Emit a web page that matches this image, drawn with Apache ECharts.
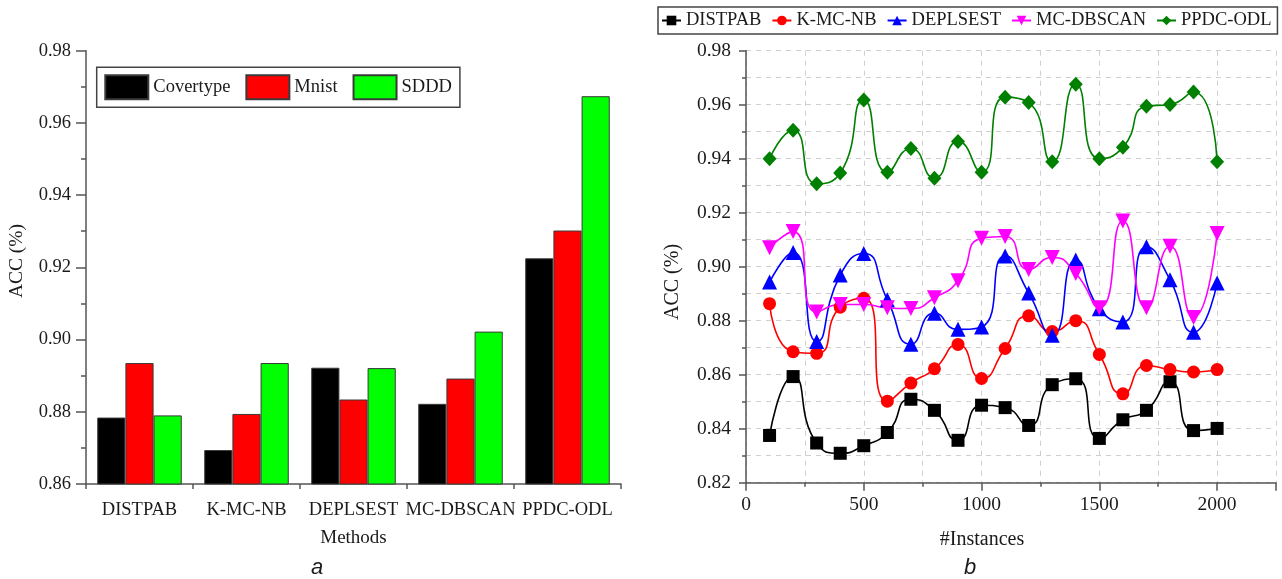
<!DOCTYPE html>
<html>
<head>
<meta charset="utf-8">
<script src="https://cdn.jsdelivr.net/npm/echarts@6/dist/echarts.min.js"></script>
<style>html,body{margin:0;padding:0;background:#fff}#c{width:1282px;height:579px}</style>
</head>
<body>
<div id="c"></div>
<script>
// ---- Panel a: bar chart ----
const methods = ['DISTPAB', 'K-MC-NB', 'DEPLSEST', 'MC-DBSCAN', 'PPDC-ODL'];
const covertype = [0.8784, 0.8694, 0.8922, 0.8822, 0.9225];
const mnist     = [0.8935, 0.8794, 0.8834, 0.8892, 0.9302];
const sddd      = [0.8790, 0.8935, 0.8921, 0.9022, 0.9674];

// ---- Panel b: line chart ----
const instances = [100,200,300,400,500,600,700,800,900,1000,1100,1200,1300,1400,1500,1600,1700,1800,1900,2000];
const distpab  = [0.8375,0.8593,0.8347,0.8309,0.8337,0.8386,0.8509,0.8468,0.8357,0.8487,0.8478,0.8412,0.8563,0.8585,0.8364,0.8433,0.8468,0.8574,0.8393,0.8401];
const kmcnb    = [0.8863,0.8685,0.8679,0.8850,0.8883,0.8502,0.8569,0.8622,0.8712,0.8586,0.8697,0.8818,0.8760,0.8800,0.8675,0.8529,0.8634,0.8619,0.8610,0.8619];
const deplsest = [0.8943,0.9053,0.8723,0.8969,0.9049,0.8878,0.8713,0.8828,0.8768,0.8777,0.9040,0.8903,0.8746,0.9025,0.8844,0.8795,0.9074,0.8952,0.8757,0.8940];
const mcdbscan = [0.9070,0.9130,0.8832,0.8860,0.8860,0.8848,0.8845,0.8885,0.8948,0.9105,0.9112,0.8990,0.9034,0.8975,0.8848,0.9169,0.8848,0.9076,0.8812,0.9123];
const ppdcodl  = [0.9400,0.9505,0.9307,0.9347,0.9617,0.9350,0.9438,0.9328,0.9464,0.9350,0.9628,0.9608,0.9389,0.9676,0.9400,0.9442,0.9594,0.9601,0.9647,0.9389];

const yTicksA = {min: 0.86, max: 0.98, interval: 0.02};
const yTicksB = {min: 0.82, max: 0.98, interval: 0.02};
const xTicksB = {min: 0, max: 2250, interval: 250};

const SERIF = 'Liberation Serif, Times New Roman, serif';
const AXC = '#555';
const TXT = '#1a1a1a';

function pairs(vals){ return instances.map((x,i)=>[x, vals[i]]); }

const chart = echarts.init(document.getElementById('c'), null, {renderer:'canvas'});

const barBorder = {borderColor:'#3a3a3a', borderWidth:1};
const lineDefs = [
  {name:'DISTPAB', data:distpab, color:'#000000', symbol:'rect', size:13, rot:0},
  {name:'K-MC-NB', data:kmcnb, color:'#ff0000', symbol:'circle', size:13, rot:0},
  {name:'DEPLSEST', data:deplsest, color:'#0000ff', symbol:'triangle', size:15, rot:0},
  {name:'MC-DBSCAN', data:mcdbscan, color:'#ff00ff', symbol:'triangle', size:15, rot:180},
  {name:'PPDC-ODL', data:ppdcodl, color:'#008000', symbol:'diamond', size:[14,15], rot:0}
];

const option = {
  animation:false,
  backgroundColor:'#fff',
  textStyle:{fontFamily:SERIF, color:TXT},
  grid:[
    {left:86, top:50.7, width:535, height:433.3},
    {left:746, top:50.7, width:530, height:432}
  ],
  legend:[
    {
      data:['Covertype','Mnist','SDDD'],
      left:96.7, top:67.3, orient:'horizontal',
      itemWidth:43, itemHeight:24, itemGap:15,
      padding:[7,8,7,7.6],
      borderColor:'#444', borderWidth:1.5,
      textStyle:{fontFamily:SERIF, fontSize:18.5, color:TXT},
      icon:'rect'
    },
    {
      data:['DISTPAB','K-MC-NB','DEPLSEST','MC-DBSCAN','PPDC-ODL'],
      left:658, top:7, width:800, orient:'horizontal',
      itemWidth:19, itemHeight:12, itemGap:10,
      padding:[4,6,4,3],
      borderColor:'#444', borderWidth:1.5,
      textStyle:{fontFamily:SERIF, fontSize:18.5, color:TXT}
    }
  ],
  xAxis:[
    {
      gridIndex:0, type:'category', data:methods, boundaryGap:true,
      axisLine:{lineStyle:{color:AXC, width:1.5}},
      axisTick:{alignWithLabel:true, length:9, lineStyle:{color:AXC, width:1.5}},
      axisLabel:{fontFamily:SERIF, fontSize:18.5, color:TXT, margin:17, interval:0},
      splitLine:{show:false}
    },
    {
      gridIndex:0, type:'category', data:methods, boundaryGap:true, position:'bottom',
      axisLine:{show:false},
      axisTick:{show:true, interval:0, length:5, lineStyle:{color:AXC, width:1.5}},
      axisLabel:{show:false}, splitLine:{show:false}
    },
    {
      gridIndex:1, type:'value', min:xTicksB.min, max:xTicksB.max, interval:xTicksB.interval,
      axisLine:{lineStyle:{color:AXC, width:1.5}},
      axisTick:{length:4, lineStyle:{color:AXC, width:1.5}},
      axisLabel:{fontFamily:SERIF, fontSize:19.5, color:TXT, margin:12,
        formatter:function(v){ return (v % 500 === 0 && v <= 2000) ? String(v) : ''; }},
      splitLine:{show:true, lineStyle:{color:'#cfcfcf', type:[5,5], width:1}}
    },
    {
      gridIndex:1, type:'value', min:xTicksB.min, max:xTicksB.max, interval:500, position:'bottom',
      axisLine:{show:false},
      axisTick:{length:8, lineStyle:{color:AXC, width:1.5}},
      axisLabel:{show:false}, splitLine:{show:false}
    }
  ],
  yAxis:[
    {
      gridIndex:0, type:'value', min:yTicksA.min, max:yTicksA.max, interval:yTicksA.interval,
      axisLine:{show:true, lineStyle:{color:AXC, width:1.5}},
      axisTick:{show:true, length:10, lineStyle:{color:AXC, width:1.5}},
      minorTick:{show:true, splitNumber:2, length:5, lineStyle:{color:AXC, width:1.5}},
      axisLabel:{fontFamily:SERIF, fontSize:18.5, color:TXT, margin:15, formatter:v=>v.toFixed(2)},
      splitLine:{show:false}
    },
    {
      gridIndex:1, type:'value', min:yTicksB.min, max:yTicksB.max, interval:yTicksB.interval,
      axisLine:{show:true, lineStyle:{color:AXC, width:1.5}},
      axisTick:{show:true, length:7, lineStyle:{color:AXC, width:1.5}},
      minorTick:{show:true, splitNumber:2, length:4, lineStyle:{color:AXC, width:1.5}},
      axisLabel:{fontFamily:SERIF, fontSize:19.5, color:TXT, margin:15, formatter:v=>v.toFixed(2)},
      splitLine:{show:true, lineStyle:{color:'#cfcfcf', type:[5,5], width:1}},
      minorSplitLine:{show:true, lineStyle:{color:'#cfcfcf', type:[5,5], width:1}}
    }
  ],
  series:[
    {name:'Covertype', type:'bar', xAxisIndex:0, yAxisIndex:0, data:covertype, barGap:'0%', barCategoryGap:'21%',
      itemStyle:Object.assign({color:'#000000'}, barBorder)},
    {name:'Mnist', type:'bar', xAxisIndex:0, yAxisIndex:0, data:mnist, barGap:'0%', barCategoryGap:'21%',
      itemStyle:Object.assign({color:'#ff0000'}, barBorder)},
    {name:'SDDD', type:'bar', xAxisIndex:0, yAxisIndex:0, data:sddd, barGap:'0%', barCategoryGap:'21%',
      itemStyle:Object.assign({color:'#00ff00'}, barBorder)}
  ].concat(lineDefs.map(d=>({
    name:d.name, type:'line', xAxisIndex:2, yAxisIndex:1, data:pairs(d.data),
    smooth:0.6, symbol:d.symbol, symbolSize:d.size, symbolRotate:d.rot,
    lineStyle:{color:d.color, width:1.6},
    itemStyle:{color:d.color},
    emphasis:{disabled:true}
  }))),
  graphic:[
    {type:'text', x:16.5, y:261, rotation:Math.PI/2,
      style:{text:'ACC (%)', font:'19.5px ' + SERIF, fill:TXT, textAlign:'center', textVerticalAlign:'middle'}},
    {type:'text', x:353.5, y:538.5,
      style:{text:'Methods', font:'19px ' + SERIF, fill:TXT, textAlign:'center', textVerticalAlign:'middle'}},
    {type:'text', x:317, y:568,
      style:{text:'a', font:'italic 22px Liberation Sans, Arial, sans-serif', fill:TXT, textAlign:'center', textVerticalAlign:'middle'}},
    {type:'text', x:673, y:282, rotation:Math.PI/2,
      style:{text:'ACC (%)', font:'20px ' + SERIF, fill:TXT, textAlign:'center', textVerticalAlign:'middle'}},
    {type:'text', x:982, y:540,
      style:{text:'#Instances', font:'20px ' + SERIF, fill:TXT, textAlign:'center', textVerticalAlign:'middle'}},
    {type:'text', x:970, y:568,
      style:{text:'b', font:'italic 22px Liberation Sans, Arial, sans-serif', fill:TXT, textAlign:'center', textVerticalAlign:'middle'}}
  ]
};
chart.setOption(option);
</script>
</body>
</html>
